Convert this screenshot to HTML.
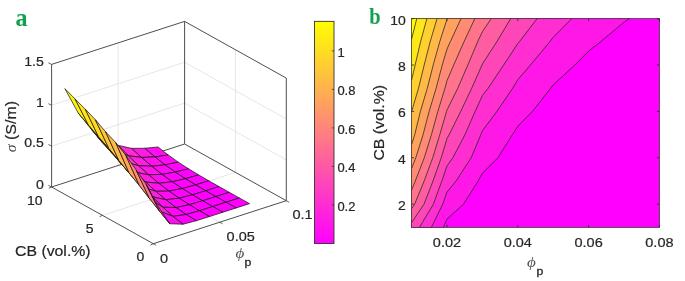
<!DOCTYPE html>
<html><head><meta charset="utf-8"><title>Figure</title><style>html,body{margin:0;padding:0;background:#fff}svg{display:block}</style></head><body>
<svg width="685" height="281" viewBox="0 0 685 281">
<g id="contour">
<rect x="411.6" y="18.65" width="247.8" height="208.7" fill="#ff00ff"/>
<path d="M411.6 227.35 L443.35 227.35 L447 219 L463.56 204.16 L478.16 180.97 L482.4 173.28 L497.85 157.78 L512.43 134.59 L517.8 126.18 L532.45 111.41 L550.68 88.22 L553.2 84.9 L574.81 65.03 L588.6 51.11 L600.43 41.84 L624 22.23 L629.42 18.65 L624 18.65 L588.6 18.65 L553.2 18.65 L517.8 18.65 L482.4 18.65 L447 18.65 L411.6 18.65 L411.6 41.84 L411.6 65.03 L411.6 88.22 L411.6 111.41 L411.6 134.59 L411.6 157.78 L411.6 180.97 L411.6 204.16 L411.6 227.35Z " fill="#ff17e8" stroke="#ff17e8" stroke-width="0.5"/>
<path d="M411.6 227.35 L431.4 227.35 L442.73 204.16 L447 191.99 L456.11 180.97 L471.16 157.78 L480.85 134.59 L482.4 130.77 L496.86 111.41 L512.7 88.22 L517.8 79.65 L530.45 65.03 L549.72 41.84 L553.2 37.31 L571.79 18.65 L553.2 18.65 L517.8 18.65 L482.4 18.65 L447 18.65 L411.6 18.65 L411.6 41.84 L411.6 65.03 L411.6 88.22 L411.6 111.41 L411.6 134.59 L411.6 157.78 L411.6 180.97 L411.6 204.16 L411.6 227.35Z " fill="#ff2ed1" stroke="#ff2ed1" stroke-width="0.5"/>
<path d="M411.6 227.35 L419.45 227.35 L433.37 204.16 L441.82 180.97 L447 165.91 L452.81 157.78 L465.02 134.59 L475.11 111.41 L482.4 95.54 L488.13 88.22 L503.65 65.03 L517.8 43.44 L519.26 41.84 L537.1 18.65 L517.8 18.65 L482.4 18.65 L447 18.65 L411.6 18.65 L411.6 41.84 L411.6 65.03 L411.6 88.22 L411.6 111.41 L411.6 134.59 L411.6 157.78 L411.6 180.97 L411.6 204.16 L411.6 227.35Z " fill="#ff46b9" stroke="#ff46b9" stroke-width="0.5"/>
<path d="M411.6 204.16 L411.6 222.59 L424.02 204.16 L432.99 180.97 L441.21 157.78 L447 138.51 L449.2 134.59 L460.69 111.41 L471.7 88.22 L481.97 65.03 L482.4 63.99 L496.74 41.84 L510.69 18.65 L482.4 18.65 L447 18.65 L411.6 18.65 L411.6 41.84 L411.6 65.03 L411.6 88.22 L411.6 111.41 L411.6 134.59 L411.6 157.78 L411.6 180.97 L411.6 204.16Z " fill="#ff5da2" stroke="#ff5da2" stroke-width="0.5"/>
<path d="M411.6 204.16 L411.6 208.71 L414.67 204.16 L424.16 180.97 L432.74 157.78 L439.81 134.59 L446.56 111.41 L447 109.98 L457.75 88.22 L467.83 65.03 L477.59 41.84 L482.4 31.66 L491.18 18.65 L482.4 18.65 L447 18.65 L411.6 18.65 L411.6 41.84 L411.6 65.03 L411.6 88.22 L411.6 111.41 L411.6 134.59 L411.6 157.78 L411.6 180.97 L411.6 204.16Z " fill="#ff748b" stroke="#ff748b" stroke-width="0.5"/>
<path d="M411.6 180.97 L411.6 189.92 L415.33 180.97 L424.26 157.78 L431.45 134.59 L437.84 111.41 L444.98 88.22 L447 80.65 L453.69 65.03 L463.94 41.84 L474.8 18.65 L447 18.65 L411.6 18.65 L411.6 41.84 L411.6 65.03 L411.6 88.22 L411.6 111.41 L411.6 134.59 L411.6 157.78 L411.6 180.97Z " fill="#ff8b74" stroke="#ff8b74" stroke-width="0.5"/>
<path d="M411.6 157.78 L411.6 168.48 L415.79 157.78 L423.1 134.59 L429.11 111.41 L436.15 88.22 L442.24 65.03 L447 49.09 L450.28 41.84 L460.99 18.65 L447 18.65 L411.6 18.65 L411.6 41.84 L411.6 65.03 L411.6 88.22 L411.6 111.41 L411.6 134.59 L411.6 157.78Z " fill="#ffa25d" stroke="#ffa25d" stroke-width="0.5"/>
<path d="M411.6 134.59 L411.6 144.5 L414.75 134.59 L420.38 111.41 L427.32 88.22 L433.21 65.03 L439.72 41.84 L447 19.04 L447.18 18.65 L447 18.65 L411.6 18.65 L411.6 41.84 L411.6 65.03 L411.6 88.22 L411.6 111.41 L411.6 134.59Z " fill="#ffb946" stroke="#ffb946" stroke-width="0.5"/>
<path d="M411.6 111.41 L411.6 111.65 L411.66 111.41 L418.5 88.22 L424.18 65.03 L430.13 41.84 L437 18.65 L411.6 18.65 L411.6 41.84 L411.6 65.03 L411.6 88.22 L411.6 111.41Z " fill="#ffd12e" stroke="#ffd12e" stroke-width="0.5"/>
<path d="M411.6 65.03 L411.6 79.94 L415.15 65.03 L420.55 41.84 L426.87 18.65 L411.6 18.65 L411.6 41.84 L411.6 65.03Z " fill="#ffe817" stroke="#ffe817" stroke-width="0.5"/>
<path d="M411.6 18.65 L411.6 39.15 L416.74 18.65 L411.6 18.65Z " fill="#ffff00" stroke="#ffff00" stroke-width="0.5"/>
<polyline points="443.35,227.35 447,219 463.56,204.16 478.16,180.97 482.4,173.28 497.85,157.78 512.43,134.59 517.8,126.18 532.45,111.41 550.68,88.22 553.2,84.9 574.81,65.03 588.6,51.11 600.43,41.84 624,22.23 629.42,18.65" fill="none" stroke="#222" stroke-width="0.75" stroke-linejoin="round"/>
<polyline points="431.4,227.35 442.73,204.16 447,191.99 456.11,180.97 471.16,157.78 480.85,134.59 482.4,130.77 496.86,111.41 512.7,88.22 517.8,79.65 530.45,65.03 549.72,41.84 553.2,37.31 571.79,18.65" fill="none" stroke="#222" stroke-width="0.75" stroke-linejoin="round"/>
<polyline points="419.45,227.35 433.37,204.16 441.82,180.97 447,165.91 452.81,157.78 465.02,134.59 475.11,111.41 482.4,95.54 488.13,88.22 503.65,65.03 517.8,43.44 519.26,41.84 537.1,18.65" fill="none" stroke="#222" stroke-width="0.75" stroke-linejoin="round"/>
<polyline points="411.6,222.59 424.02,204.16 432.99,180.97 441.21,157.78 447,138.51 449.2,134.59 460.69,111.41 471.7,88.22 481.97,65.03 482.4,63.99 496.74,41.84 510.69,18.65" fill="none" stroke="#222" stroke-width="0.75" stroke-linejoin="round"/>
<polyline points="411.6,208.71 414.67,204.16 424.16,180.97 432.74,157.78 439.81,134.59 446.56,111.41 447,109.98 457.75,88.22 467.83,65.03 477.59,41.84 482.4,31.66 491.18,18.65" fill="none" stroke="#222" stroke-width="0.75" stroke-linejoin="round"/>
<polyline points="411.6,189.92 415.33,180.97 424.26,157.78 431.45,134.59 437.84,111.41 444.98,88.22 447,80.65 453.69,65.03 463.94,41.84 474.8,18.65" fill="none" stroke="#222" stroke-width="0.75" stroke-linejoin="round"/>
<polyline points="411.6,168.48 415.79,157.78 423.1,134.59 429.11,111.41 436.15,88.22 442.24,65.03 447,49.09 450.28,41.84 460.99,18.65" fill="none" stroke="#222" stroke-width="0.75" stroke-linejoin="round"/>
<polyline points="411.6,144.5 414.75,134.59 420.38,111.41 427.32,88.22 433.21,65.03 439.72,41.84 447,19.04 447.18,18.65" fill="none" stroke="#222" stroke-width="0.75" stroke-linejoin="round"/>
<polyline points="411.6,111.65 411.66,111.41 418.5,88.22 424.18,65.03 430.13,41.84 437,18.65" fill="none" stroke="#222" stroke-width="0.75" stroke-linejoin="round"/>
<polyline points="411.6,79.94 415.15,65.03 420.55,41.84 426.87,18.65" fill="none" stroke="#222" stroke-width="0.75" stroke-linejoin="round"/>
<polyline points="411.6,39.15 416.74,18.65" fill="none" stroke="#222" stroke-width="0.75" stroke-linejoin="round"/>
<rect x="411.6" y="18.65" width="247.8" height="208.7" fill="none" stroke="#303030" stroke-width="0.75"/>
<path d="M447 227.35 v-2.5 M447 18.65 v2.5" stroke="#262626" stroke-width="0.8"/>
<text transform="translate(447,247.3) scale(1.09,1)" font-family='"Liberation Sans", Arial, sans-serif' font-size="13.33" text-anchor="middle" fill="#262626"  stroke="#262626" stroke-width="0.2">0.02</text>
<path d="M517.8 227.35 v-2.5 M517.8 18.65 v2.5" stroke="#262626" stroke-width="0.8"/>
<text transform="translate(517.8,247.3) scale(1.09,1)" font-family='"Liberation Sans", Arial, sans-serif' font-size="13.33" text-anchor="middle" fill="#262626"  stroke="#262626" stroke-width="0.2">0.04</text>
<path d="M588.6 227.35 v-2.5 M588.6 18.65 v2.5" stroke="#262626" stroke-width="0.8"/>
<text transform="translate(588.6,247.3) scale(1.09,1)" font-family='"Liberation Sans", Arial, sans-serif' font-size="13.33" text-anchor="middle" fill="#262626"  stroke="#262626" stroke-width="0.2">0.06</text>
<path d="M659.4 227.35 v-2.5 M659.4 18.65 v2.5" stroke="#262626" stroke-width="0.8"/>
<text transform="translate(659.4,247.3) scale(1.09,1)" font-family='"Liberation Sans", Arial, sans-serif' font-size="13.33" text-anchor="middle" fill="#262626"  stroke="#262626" stroke-width="0.2">0.08</text>
<path d="M411.6 204.16 h2.5 M659.4 204.16 h-2.5" stroke="#262626" stroke-width="0.8"/>
<text transform="translate(405.9,210.06) scale(1.05,1)" font-family='"Liberation Sans", Arial, sans-serif' font-size="13.33" text-anchor="end" fill="#262626"  stroke="#262626" stroke-width="0.2">2</text>
<path d="M411.6 157.78 h2.5 M659.4 157.78 h-2.5" stroke="#262626" stroke-width="0.8"/>
<text transform="translate(405.9,163.68) scale(1.05,1)" font-family='"Liberation Sans", Arial, sans-serif' font-size="13.33" text-anchor="end" fill="#262626"  stroke="#262626" stroke-width="0.2">4</text>
<path d="M411.6 111.41 h2.5 M659.4 111.41 h-2.5" stroke="#262626" stroke-width="0.8"/>
<text transform="translate(405.9,117.31) scale(1.05,1)" font-family='"Liberation Sans", Arial, sans-serif' font-size="13.33" text-anchor="end" fill="#262626"  stroke="#262626" stroke-width="0.2">6</text>
<path d="M411.6 65.03 h2.5 M659.4 65.03 h-2.5" stroke="#262626" stroke-width="0.8"/>
<text transform="translate(405.9,70.93) scale(1.05,1)" font-family='"Liberation Sans", Arial, sans-serif' font-size="13.33" text-anchor="end" fill="#262626"  stroke="#262626" stroke-width="0.2">8</text>
<path d="M411.6 18.65 h2.5 M659.4 18.65 h-2.5" stroke="#262626" stroke-width="0.8"/>
<text transform="translate(405.9,24.55) scale(1.05,1)" font-family='"Liberation Sans", Arial, sans-serif' font-size="13.33" text-anchor="end" fill="#262626"  stroke="#262626" stroke-width="0.2">10</text>
<text transform="translate(383.5,122.8) rotate(-90) scale(1.08,1)" font-family='"Liberation Sans", Arial, sans-serif' font-size="14.67" text-anchor="middle" fill="#262626"  stroke="#262626" stroke-width="0.2">CB (vol.%)</text>
<text transform="translate(527,267.4) scale(1.17,1)" font-family='"Liberation Serif", "DejaVu Serif", serif' font-size="14.6" text-anchor="start" fill="#555" font-style="italic">ϕ</text>
<text transform="translate(536.6,274.8) scale(1.05,1)" font-family='"Liberation Sans", Arial, sans-serif' font-size="11.7" text-anchor="start" fill="#262626" stroke="#262626" stroke-width="0.3">p</text>
<text transform="translate(369.2,23.5) scale(0.85,1)" font-family='"Liberation Serif", serif' font-size="24" text-anchor="start" fill="#14a050" font-weight="bold">b</text>
</g>
<defs><linearGradient id="sp" x1="0" y1="1" x2="0" y2="0"><stop offset="0" stop-color="#ff00ff"/><stop offset="1" stop-color="#ffff00"/></linearGradient></defs>
<rect x="314.5" y="21.35" width="19.5" height="222.15" fill="url(#sp)" stroke="#333" stroke-width="0.9"/>
<path d="M334 50.9 h-2.2" stroke="#333" stroke-width="0.8"/>
<text transform="translate(337.6,56.7) scale(1.08,1)" font-family='"Liberation Sans", Arial, sans-serif' font-size="12" text-anchor="start" fill="#262626"  stroke="#262626" stroke-width="0.2">1</text>
<path d="M334 89.4 h-2.2" stroke="#333" stroke-width="0.8"/>
<text transform="translate(337.4,95.2) scale(1.08,1)" font-family='"Liberation Sans", Arial, sans-serif' font-size="12" text-anchor="start" fill="#262626"  stroke="#262626" stroke-width="0.2">0.8</text>
<path d="M334 127.9 h-2.2" stroke="#333" stroke-width="0.8"/>
<text transform="translate(337.4,133.7) scale(1.08,1)" font-family='"Liberation Sans", Arial, sans-serif' font-size="12" text-anchor="start" fill="#262626"  stroke="#262626" stroke-width="0.2">0.6</text>
<path d="M334 166.4 h-2.2" stroke="#333" stroke-width="0.8"/>
<text transform="translate(337.4,172.2) scale(1.08,1)" font-family='"Liberation Sans", Arial, sans-serif' font-size="12" text-anchor="start" fill="#262626"  stroke="#262626" stroke-width="0.2">0.4</text>
<path d="M334 204.9 h-2.2" stroke="#333" stroke-width="0.8"/>
<text transform="translate(337.4,210.7) scale(1.08,1)" font-family='"Liberation Sans", Arial, sans-serif' font-size="12" text-anchor="start" fill="#262626"  stroke="#262626" stroke-width="0.2">0.2</text>
<g id="surf">
<line x1="219.8" y1="222.2" x2="118.1" y2="165.5" stroke="#e0e0e0" stroke-width="0.8"/>
<line x1="102.45" y1="215.35" x2="235.45" y2="172.35" stroke="#e0e0e0" stroke-width="0.8"/>
<line x1="118.1" y1="165.5" x2="118.1" y2="42.9" stroke="#e0e0e0" stroke-width="0.8"/>
<line x1="51.6" y1="146.13" x2="184.6" y2="103.13" stroke="#e0e0e0" stroke-width="0.8"/>
<line x1="184.6" y1="103.13" x2="286.3" y2="159.83" stroke="#e0e0e0" stroke-width="0.8"/>
<line x1="51.6" y1="105.27" x2="184.6" y2="62.27" stroke="#e0e0e0" stroke-width="0.8"/>
<line x1="184.6" y1="62.27" x2="286.3" y2="118.97" stroke="#e0e0e0" stroke-width="0.8"/>
<line x1="235.45" y1="172.35" x2="235.45" y2="49.75" stroke="#e0e0e0" stroke-width="0.8"/>
<line x1="153.3" y1="243.7" x2="286.3" y2="200.7" stroke="#3a3a3a" stroke-width="0.9"/>
<line x1="153.3" y1="243.7" x2="51.6" y2="187" stroke="#3a3a3a" stroke-width="0.9"/>
<line x1="51.6" y1="187" x2="51.6" y2="64.4" stroke="#3a3a3a" stroke-width="0.9"/>
<line x1="51.6" y1="187" x2="184.6" y2="144" stroke="#3a3a3a" stroke-width="0.9"/>
<line x1="184.6" y1="144" x2="286.3" y2="200.7" stroke="#3a3a3a" stroke-width="0.9"/>
<line x1="184.6" y1="144" x2="184.6" y2="21.4" stroke="#3a3a3a" stroke-width="0.9"/>
<line x1="286.3" y1="200.7" x2="286.3" y2="78.1" stroke="#3a3a3a" stroke-width="0.9"/>
<line x1="51.6" y1="64.4" x2="184.6" y2="21.4" stroke="#3a3a3a" stroke-width="0.9"/>
<line x1="184.6" y1="21.4" x2="286.3" y2="78.1" stroke="#3a3a3a" stroke-width="0.9"/>
<line x1="51.6" y1="187" x2="48.4" y2="185.4" stroke="#3a3a3a" stroke-width="0.8"/>
<line x1="51.6" y1="146.13" x2="48.4" y2="144.53" stroke="#3a3a3a" stroke-width="0.8"/>
<line x1="51.6" y1="105.27" x2="48.4" y2="103.67" stroke="#3a3a3a" stroke-width="0.8"/>
<line x1="51.6" y1="64.4" x2="48.4" y2="62.8" stroke="#3a3a3a" stroke-width="0.8"/>
<line x1="153.3" y1="243.7" x2="150.5" y2="245" stroke="#3a3a3a" stroke-width="0.8"/>
<line x1="102.45" y1="215.35" x2="99.65" y2="216.65" stroke="#3a3a3a" stroke-width="0.8"/>
<line x1="51.6" y1="187" x2="48.8" y2="188.3" stroke="#3a3a3a" stroke-width="0.8"/>
<line x1="153.3" y1="243.7" x2="156.1" y2="245.3" stroke="#3a3a3a" stroke-width="0.8"/>
<line x1="219.8" y1="222.2" x2="222.6" y2="223.8" stroke="#3a3a3a" stroke-width="0.8"/>
<line x1="286.3" y1="200.7" x2="289.1" y2="202.3" stroke="#3a3a3a" stroke-width="0.8"/>
<polygon points="154.87,156.9 168.17,154.92 158,146.96 144.7,148.27" fill="#ff0ff0" stroke="#111" stroke-width="0.7" stroke-linejoin="round"/>
<polygon points="165.04,164.84 178.34,162.15 168.17,154.92 154.87,156.9" fill="#ff09f6" stroke="#111" stroke-width="0.7" stroke-linejoin="round"/>
<polygon points="141.57,157.44 154.87,156.9 144.7,148.27 131.4,148.33" fill="#ff1ae5" stroke="#111" stroke-width="0.7" stroke-linejoin="round"/>
<polygon points="175.21,172.07 188.51,168.76 178.34,162.15 165.04,164.84" fill="#ff05fa" stroke="#111" stroke-width="0.7" stroke-linejoin="round"/>
<polygon points="151.74,166.26 165.04,164.84 154.87,156.9 141.57,157.44" fill="#ff11ee" stroke="#111" stroke-width="0.7" stroke-linejoin="round"/>
<polygon points="128.27,155.76 141.57,157.44 131.4,148.33 118.1,145.31" fill="#ff2ad5" stroke="#111" stroke-width="0.7" stroke-linejoin="round"/>
<polygon points="161.91,174.37 175.21,172.07 165.04,164.84 151.74,166.26" fill="#ff0af5" stroke="#111" stroke-width="0.7" stroke-linejoin="round"/>
<polygon points="185.38,178.7 198.68,174.93 188.51,168.76 175.21,172.07" fill="#ff02fd" stroke="#111" stroke-width="0.7" stroke-linejoin="round"/>
<polygon points="138.44,165.7 151.74,166.26 141.57,157.44 128.27,155.76" fill="#ff1ee1" stroke="#111" stroke-width="0.7" stroke-linejoin="round"/>
<polygon points="114.97,150.56 128.27,155.76 118.1,145.31 104.8,140.09" fill="#ff43bc" stroke="#111" stroke-width="0.7" stroke-linejoin="round"/>
<polygon points="172.08,181.75 185.38,178.7 175.21,172.07 161.91,174.37" fill="#ff06f9" stroke="#111" stroke-width="0.7" stroke-linejoin="round"/>
<polygon points="148.61,174.83 161.91,174.37 151.74,166.26 138.44,165.7" fill="#ff15ea" stroke="#111" stroke-width="0.7" stroke-linejoin="round"/>
<polygon points="195.55,184.89 208.85,180.83 198.68,174.93 185.38,178.7" fill="#ff01fe" stroke="#111" stroke-width="0.7" stroke-linejoin="round"/>
<polygon points="125.14,161.9 138.44,165.7 128.27,155.76 114.97,150.56" fill="#ff34cb" stroke="#111" stroke-width="0.7" stroke-linejoin="round"/>
<polygon points="158.78,183.29 172.08,181.75 161.91,174.37 148.61,174.83" fill="#ff0df2" stroke="#111" stroke-width="0.7" stroke-linejoin="round"/>
<polygon points="182.25,188.52 195.55,184.89 185.38,178.7 172.08,181.75" fill="#ff03fc" stroke="#111" stroke-width="0.7" stroke-linejoin="round"/>
<polygon points="205.72,190.81 219.02,186.59 208.85,180.83 195.55,184.89" fill="#ff00ff" stroke="#111" stroke-width="0.7" stroke-linejoin="round"/>
<polygon points="135.31,172.16 148.61,174.83 138.44,165.7 125.14,161.9" fill="#ff28d7" stroke="#111" stroke-width="0.7" stroke-linejoin="round"/>
<polygon points="101.67,141.78 114.97,150.56 104.8,140.09 91.5,129.56" fill="#ff6798" stroke="#111" stroke-width="0.7" stroke-linejoin="round"/>
<polygon points="168.95,191.09 182.25,188.52 172.08,181.75 158.78,183.29" fill="#ff07f8" stroke="#111" stroke-width="0.7" stroke-linejoin="round"/>
<polygon points="111.84,153 125.14,161.9 114.97,150.56 101.67,141.78" fill="#ff58a7" stroke="#111" stroke-width="0.7" stroke-linejoin="round"/>
<polygon points="192.42,194.82 205.72,190.81 195.55,184.89 182.25,188.52" fill="#ff01fe" stroke="#111" stroke-width="0.7" stroke-linejoin="round"/>
<polygon points="145.48,181.99 158.78,183.29 148.61,174.83 135.31,172.16" fill="#ff1ce3" stroke="#111" stroke-width="0.7" stroke-linejoin="round"/>
<polygon points="215.89,196.57 229.19,192.29 219.02,186.59 205.72,190.81" fill="#ff00ff" stroke="#111" stroke-width="0.7" stroke-linejoin="round"/>
<polygon points="122.01,164.68 135.31,172.16 125.14,161.9 111.84,153" fill="#ff47b8" stroke="#111" stroke-width="0.7" stroke-linejoin="round"/>
<polygon points="179.12,198.18 192.42,194.82 182.25,188.52 168.95,191.09" fill="#ff04fb" stroke="#111" stroke-width="0.7" stroke-linejoin="round"/>
<polygon points="155.65,191.3 168.95,191.09 158.78,183.29 145.48,181.99" fill="#ff13ec" stroke="#111" stroke-width="0.7" stroke-linejoin="round"/>
<polygon points="202.59,200.77 215.89,196.57 205.72,190.81 192.42,194.82" fill="#ff00ff" stroke="#111" stroke-width="0.7" stroke-linejoin="round"/>
<polygon points="88.37,124.9 101.67,141.78 91.5,129.56 78.2,112.91" fill="#ffa05f" stroke="#111" stroke-width="0.7" stroke-linejoin="round"/>
<polygon points="226.06,202.26 239.36,197.96 229.19,192.29 215.89,196.57" fill="#ff00ff" stroke="#111" stroke-width="0.7" stroke-linejoin="round"/>
<polygon points="132.18,176.39 145.48,181.99 135.31,172.16 122.01,164.68" fill="#ff37c8" stroke="#111" stroke-width="0.7" stroke-linejoin="round"/>
<polygon points="165.82,199.74 179.12,198.18 168.95,191.09 155.65,191.3" fill="#ff0bf4" stroke="#111" stroke-width="0.7" stroke-linejoin="round"/>
<polygon points="98.54,136.83 111.84,153 101.67,141.78 88.37,124.9" fill="#ff8f70" stroke="#111" stroke-width="0.7" stroke-linejoin="round"/>
<polygon points="189.29,204.69 202.59,200.77 192.42,194.82 179.12,198.18" fill="#ff01fe" stroke="#111" stroke-width="0.7" stroke-linejoin="round"/>
<polygon points="212.76,206.54 226.06,202.26 215.89,196.57 202.59,200.77" fill="#ff00ff" stroke="#111" stroke-width="0.7" stroke-linejoin="round"/>
<polygon points="142.35,186.9 155.65,191.3 145.48,181.99 132.18,176.39" fill="#ff2ad5" stroke="#111" stroke-width="0.7" stroke-linejoin="round"/>
<polygon points="236.23,207.93 249.53,203.63 239.36,197.96 226.06,202.26" fill="#ff00ff" stroke="#111" stroke-width="0.7" stroke-linejoin="round"/>
<polygon points="108.71,148.24 122.01,164.68 111.84,153 98.54,136.83" fill="#ff807f" stroke="#111" stroke-width="0.7" stroke-linejoin="round"/>
<polygon points="175.99,207.56 189.29,204.69 179.12,198.18 165.82,199.74" fill="#ff05fa" stroke="#111" stroke-width="0.7" stroke-linejoin="round"/>
<polygon points="199.46,210.74 212.76,206.54 202.59,200.77 189.29,204.69" fill="#ff00ff" stroke="#111" stroke-width="0.7" stroke-linejoin="round"/>
<polygon points="152.52,196.78 165.82,199.74 155.65,191.3 142.35,186.9" fill="#ff1fe0" stroke="#111" stroke-width="0.7" stroke-linejoin="round"/>
<polygon points="222.93,212.23 236.23,207.93 226.06,202.26 212.76,206.54" fill="#ff00ff" stroke="#111" stroke-width="0.7" stroke-linejoin="round"/>
<polygon points="118.88,160.62 132.18,176.39 122.01,164.68 108.71,148.24" fill="#ff6d92" stroke="#111" stroke-width="0.7" stroke-linejoin="round"/>
<polygon points="75.07,99.01 88.37,124.9 78.2,112.91 64.9,88.65" fill="#fff20d" stroke="#111" stroke-width="0.7" stroke-linejoin="round"/>
<polygon points="186.16,214.5 199.46,210.74 189.29,204.69 175.99,207.56" fill="#ff02fd" stroke="#111" stroke-width="0.7" stroke-linejoin="round"/>
<polygon points="162.69,207.19 175.99,207.56 165.82,199.74 152.52,196.78" fill="#ff12ed" stroke="#111" stroke-width="0.7" stroke-linejoin="round"/>
<polygon points="129.05,172.92 142.35,186.9 132.18,176.39 118.88,160.62" fill="#ff5ca3" stroke="#111" stroke-width="0.7" stroke-linejoin="round"/>
<polygon points="209.63,216.52 222.93,212.23 212.76,206.54 199.46,210.74" fill="#ff00ff" stroke="#111" stroke-width="0.7" stroke-linejoin="round"/>
<polygon points="85.24,109.09 98.54,136.83 88.37,124.9 75.07,99.01" fill="#ffe619" stroke="#111" stroke-width="0.7" stroke-linejoin="round"/>
<polygon points="139.22,185.31 152.52,196.78 142.35,186.9 129.05,172.92" fill="#ff49b6" stroke="#111" stroke-width="0.7" stroke-linejoin="round"/>
<polygon points="172.86,216.34 186.16,214.5 175.99,207.56 162.69,207.19" fill="#ff08f7" stroke="#111" stroke-width="0.7" stroke-linejoin="round"/>
<polygon points="196.33,220.71 209.63,216.52 199.46,210.74 186.16,214.5" fill="#ff00ff" stroke="#111" stroke-width="0.7" stroke-linejoin="round"/>
<polygon points="95.41,119.76 108.71,148.24 98.54,136.83 85.24,109.09" fill="#ffd827" stroke="#111" stroke-width="0.7" stroke-linejoin="round"/>
<polygon points="149.39,198.37 162.69,207.19 152.52,196.78 139.22,185.31" fill="#ff35ca" stroke="#111" stroke-width="0.7" stroke-linejoin="round"/>
<polygon points="183.03,224.21 196.33,220.71 186.16,214.5 172.86,216.34" fill="#ff02fd" stroke="#111" stroke-width="0.7" stroke-linejoin="round"/>
<polygon points="105.58,131.77 118.88,160.62 108.71,148.24 95.41,119.76" fill="#ffc738" stroke="#111" stroke-width="0.7" stroke-linejoin="round"/>
<polygon points="159.56,211.15 172.86,216.34 162.69,207.19 149.39,198.37" fill="#ff22dd" stroke="#111" stroke-width="0.7" stroke-linejoin="round"/>
<polygon points="115.75,142.58 129.05,172.92 118.88,160.62 105.58,131.77" fill="#ffb946" stroke="#111" stroke-width="0.7" stroke-linejoin="round"/>
<polygon points="169.73,223.75 183.03,224.21 172.86,216.34 159.56,211.15" fill="#ff0ff0" stroke="#111" stroke-width="0.7" stroke-linejoin="round"/>
<polygon points="125.92,155.46 139.22,185.31 129.05,172.92 115.75,142.58" fill="#ffa659" stroke="#111" stroke-width="0.7" stroke-linejoin="round"/>
<polygon points="136.09,169.9 149.39,198.37 139.22,185.31 125.92,155.46" fill="#ff8e71" stroke="#111" stroke-width="0.7" stroke-linejoin="round"/>
<polygon points="146.26,184.51 159.56,211.15 149.39,198.37 136.09,169.9" fill="#ff7689" stroke="#111" stroke-width="0.7" stroke-linejoin="round"/>
<polygon points="156.43,203.84 169.73,223.75 159.56,211.15 146.26,184.51" fill="#ff51ae" stroke="#111" stroke-width="0.7" stroke-linejoin="round"/>
</g>
<text transform="translate(43.9,188.9) scale(1.06,1)" font-family='"Liberation Sans", Arial, sans-serif' font-size="13.33" text-anchor="end" fill="#262626"  stroke="#262626" stroke-width="0.2">0</text>
<text transform="translate(43.9,147.43) scale(1.06,1)" font-family='"Liberation Sans", Arial, sans-serif' font-size="13.33" text-anchor="end" fill="#262626"  stroke="#262626" stroke-width="0.2">0.5</text>
<text transform="translate(43.9,107.17) scale(1.06,1)" font-family='"Liberation Sans", Arial, sans-serif' font-size="13.33" text-anchor="end" fill="#262626"  stroke="#262626" stroke-width="0.2">1</text>
<text transform="translate(43.9,66.3) scale(1.06,1)" font-family='"Liberation Sans", Arial, sans-serif' font-size="13.33" text-anchor="end" fill="#262626"  stroke="#262626" stroke-width="0.2">1.5</text>
<text transform="translate(144.3,261.2) scale(1.05,1)" font-family='"Liberation Sans", Arial, sans-serif' font-size="13.33" text-anchor="end" fill="#262626"  stroke="#262626" stroke-width="0.2">0</text>
<text transform="translate(93.45,232.85) scale(1.05,1)" font-family='"Liberation Sans", Arial, sans-serif' font-size="13.33" text-anchor="end" fill="#262626"  stroke="#262626" stroke-width="0.2">5</text>
<text transform="translate(42.6,204.5) scale(1.05,1)" font-family='"Liberation Sans", Arial, sans-serif' font-size="13.33" text-anchor="end" fill="#262626"  stroke="#262626" stroke-width="0.2">10</text>
<text transform="translate(160.1,262.5) scale(1.09,1)" font-family='"Liberation Sans", Arial, sans-serif' font-size="13.33" text-anchor="start" fill="#262626"  stroke="#262626" stroke-width="0.2">0</text>
<text transform="translate(226.6,241) scale(1.09,1)" font-family='"Liberation Sans", Arial, sans-serif' font-size="13.33" text-anchor="start" fill="#262626"  stroke="#262626" stroke-width="0.2">0.05</text>
<text transform="translate(292.4,218.9) scale(1.09,1)" font-family='"Liberation Sans", Arial, sans-serif' font-size="13.33" text-anchor="start" fill="#262626"  stroke="#262626" stroke-width="0.2">0.1</text>
<text transform="translate(15,255.7) scale(1.08,1)" font-family='"Liberation Sans", Arial, sans-serif' font-size="14.67" text-anchor="start" fill="#262626"  stroke="#262626" stroke-width="0.2">CB (vol.%)</text>
<text transform="translate(16.2,152.2) rotate(-90) scale(1.09,1)" font-family='"Liberation Sans", Arial, sans-serif' font-size="14.67" text-anchor="start" fill="#262626"  stroke="#262626" stroke-width="0.2"><tspan font-family='"Liberation Serif", serif' font-style="italic" font-size="14.5" stroke="none" fill="#444">σ</tspan> (S/m)</text>
<text transform="translate(235.5,258.1) scale(1.17,1)" font-family='"Liberation Serif", "DejaVu Serif", serif' font-size="14.6" text-anchor="start" fill="#555" font-style="italic">ϕ</text>
<text transform="translate(244.6,265.6) scale(1.05,1)" font-family='"Liberation Sans", Arial, sans-serif' font-size="11.7" text-anchor="start" fill="#262626" stroke="#262626" stroke-width="0.3">p</text>
<text transform="translate(15.5,25.6) scale(0.95,1)" font-family='"Liberation Serif", serif' font-size="25.4" text-anchor="start" fill="#14a050" font-weight="bold">a</text>
</svg>
</body></html>
